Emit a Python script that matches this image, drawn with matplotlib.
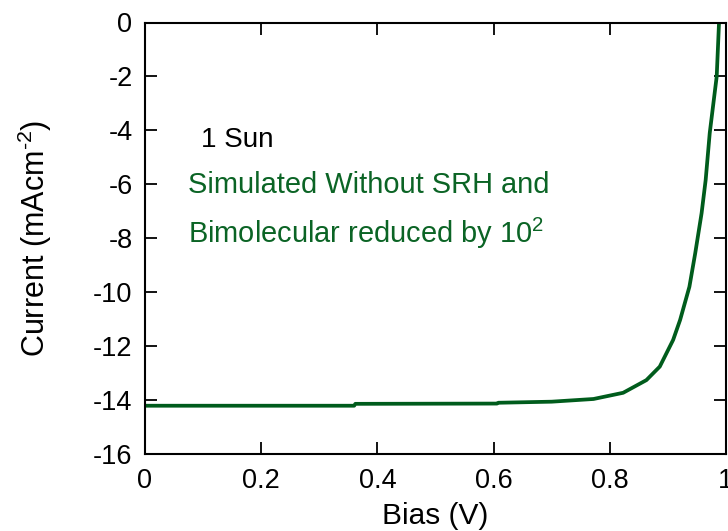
import matplotlib
matplotlib.use("Agg")
import matplotlib.pyplot as plt

plt.rcParams['font.family'] = ['Liberation Sans', 'DejaVu Sans']
plt.rcParams['mathtext.fontset'] = 'custom'
plt.rcParams['mathtext.rm'] = 'Liberation Sans'

bias = [0.0, 0.36, 0.362, 0.606, 0.608, 0.70, 0.772, 0.823, 0.863, 0.886,
        0.909, 0.921, 0.937, 0.947, 0.958, 0.965, 0.972, 0.984, 0.988]
current = [-14.21, -14.21, -14.14, -14.13, -14.10, -14.06, -13.96, -13.73, -13.26, -12.76,
           -11.77, -11.03, -9.8, -8.56, -7.07, -5.84, -4.1, -2.0, 0.0]

xticks = [0, 0.2, 0.4, 0.6, 0.8, 1]
xticklabels = ['0', '0.2', '0.4', '0.6', '0.8', '1']
yticks = [0, -2, -4, -6, -8, -10, -12, -14, -16]

green = '#0b6425'
line_green = '#005c1c'

fig = plt.figure(figsize=(7.28, 5.31), dpi=100)
ax = fig.add_axes([145/728, 1-454/531, (726-145)/728, (454-22.5)/531])
ax.plot(bias, current, color=line_green, lw=2.7, solid_capstyle='butt')
ax.set_xlim(0, 1)
ax.set_ylim(-16, 0)
ax.set_xticks(xticks)
ax.set_xticklabels(xticklabels)
ax.set_yticks(yticks)
ax.set_yticklabels([str(t) for t in yticks])
ax.tick_params(direction='in', length=8.5, width=1.3, top=True, right=True,
               labelsize=19.5)
ax.tick_params(axis='x', pad=10)
ax.tick_params(axis='y', pad=9)
for s in ax.spines.values():
    s.set_linewidth(1.5)
ax.set_xlabel('Bias (V)', fontsize=21.5, labelpad=6)
ax.set_ylabel('Current (mAcm$^{\u2010 2}$)', fontsize=22, labelpad=28)

ax.text(0.0958, -4.62, '1 Sun', fontsize=20, color='black')
ax.text(0.0745, -6.32, 'Simulated Without SRH and', fontsize=20.9, color=green)
ax.text(0.0745, -8.18, 'Bimolecular reduced by 10$^{2}$', fontsize=20.9, color=green)

fig.savefig('out.png', dpi=100)
